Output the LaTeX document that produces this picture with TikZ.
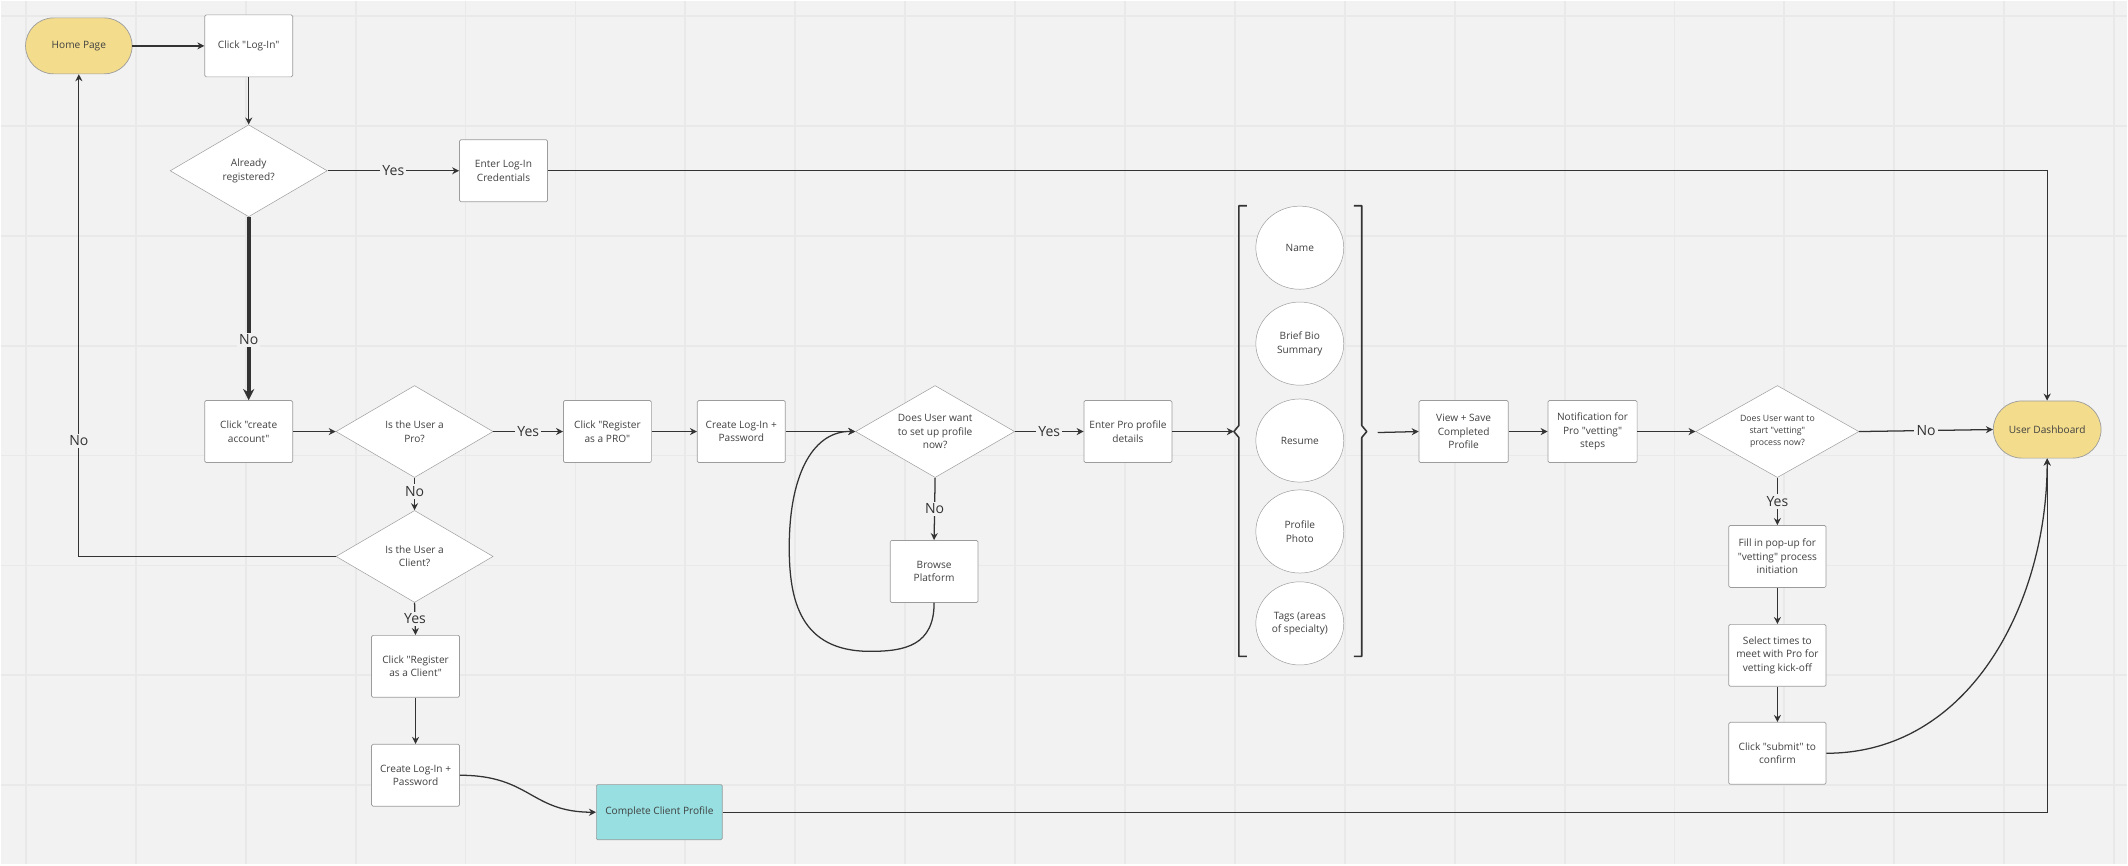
\documentclass[tikz,border=0pt]{standalone}
\usepackage{fontspec}
\setmainfont{Open Sans}[Ligatures=TeXOff]
\usepackage{xcolor}
\definecolor{canvas-bg}{HTML}{F2F2F2}
\definecolor{grid-line}{HTML}{E9E9E9}
\definecolor{ink-dark}{HTML}{333333}
\definecolor{box-edge}{HTML}{9C9C9C}
\definecolor{text-grey}{HTML}{404040}
\definecolor{term-yellow}{HTML}{F3DC8C}
\definecolor{client-teal}{HTML}{97DFE1}
\usetikzlibrary{arrows.meta, shapes.geometric, shapes.misc}

\begin{document}
\begin{tikzpicture}[x=0.025cm, y=-0.025cm,
    every node/.style={font=\fontsize{7.2}{9.6}\selectfont, text=text-grey},
    box/.style={draw=box-edge, line width=0.5pt, fill=white, rounded corners=1pt,
        minimum width=2.2cm, minimum height=1.55cm, align=center, inner sep=2pt},
    decision/.style={diamond, shape aspect=1.7, draw=box-edge, line width=0.35pt,
        fill=white, minimum width=3.93cm, minimum height=2.3cm, inner sep=0pt, align=center},
    terminal/.style={rounded rectangle, draw=box-edge, line width=0.5pt, fill=term-yellow,
        minimum width=2.9cm, minimum height=1.4cm},
    bubble/.style={ellipse, draw=box-edge, line width=0.35pt, fill=white,
        minimum width=2.2cm, minimum height=2.08cm, inner sep=0pt, align=center},
    flow/.style={draw=ink-dark, line width=0.9pt, -{Stealth[length=5pt, width=5pt]}},
    lbl/.style={fill=canvas-bg, inner sep=1.5pt, font=\fontsize{10}{12}\selectfont, text=ink-dark}]

  % canvas and grid
  \fill[canvas-bg] (0,0) rectangle (2128,864);
  \foreach \gx in {25,135,...,2115}
    \draw[grid-line, line width=1.3pt] (\gx,0) -- (\gx,864);
  \foreach \gy in {15,125,...,785}
    \draw[grid-line, line width=1.3pt] (0,\gy) -- (2128,\gy);

  % log-in branch
  \node[terminal] (home) at (78,45) {Home Page};
  \node[box] (login) at (248,45) {Click "Log-In"};
  \node[decision] (reg) at (248,170) {Already\\registered?};
  \node[box] (creds) at (503,170) {Enter Log-In\\Credentials};
  \node[terminal, minimum width=2.93cm, minimum height=1.43cm] (dash) at (2048,429) {User Dashboard};

  % pro sign-up
  \node[box] (create) at (248,431) {Click "create\\account"};
  \node[decision] (pro) at (414,431) {Is the User a\\Pro?};
  \node[box] (regpro) at (607,431) {Click "Register\\as a PRO"};
  \node[box] (procreds) at (741,431) {Create Log-In +\\Password};
  \node[decision, minimum width=3.98cm] (setup) at (935,431) {Does User want\\to set up profile\\now?};
  \node[box] (browse) at (934,571) {Browse\\Platform};
  \node[box] (enter) at (1128,431) {Enter Pro profile\\details};

  % profile fields
  \node[bubble] (name) at (1300,247) {Name};
  \node[bubble] (bio) at (1300,343) {Brief Bio\\Summary};
  \node[bubble] (resume) at (1300,440) {Resume};
  \node[bubble] (photo) at (1300,531) {Profile\\Photo};
  \node[bubble] (tags) at (1300,623) {Tags (areas\\of specialty)};
  \draw[ink-dark, line width=1.1pt, line join=round]
    (1247,205) -- (1239,205) -- (1239,425) -- (1234,431) -- (1239,437) -- (1239,656) -- (1247,656);
  \draw[ink-dark, line width=1.1pt, line join=round]
    (1354,205) -- (1362,205) -- (1362,425) -- (1367,431) -- (1362,437) -- (1362,656) -- (1354,656);
  \coordinate (brL) at (1234,431);
  \coordinate (brR) at (1378,432);

  % vetting
  \node[box, minimum width=2.23cm] (view) at (1464,431) {View + Save\\Completed\\Profile};
  \node[box, minimum width=2.23cm] (notif) at (1593,431) {Notification for\\Pro "vetting"\\steps};
  \node[decision, minimum width=4.08cm, font=\fontsize{6.2}{8.6}\selectfont] (vet) at (1778,431)
    {Does User want to\\start "vetting"\\process now?};
  \node[box, minimum width=2.43cm] (popup) at (1778,556) {Fill in pop-up for\\"vetting" process\\initiation};
  \node[box, minimum width=2.43cm] (times) at (1778,655) {Select times to\\meet with Pro for\\vetting kick-off};
  \node[box, minimum width=2.43cm] (submit) at (1778,753) {Click "submit" to\\confirm};

  % client sign-up
  \node[decision] (client) at (414,556) {Is the User a\\Client?};
  \node[box] (regclient) at (415,666) {Click "Register\\as a Client"};
  \node[box] (clcreds) at (415,775) {Create Log-In +\\Password};
  \node[box, fill=client-teal, minimum width=3.15cm, minimum height=1.38cm] (profile) at (659,812)
    {Complete Client Profile};

  % connectors
  \draw[flow] (home.east) -- (login.west);
  \draw[flow] (login.south) -- (reg.north);
  \draw[flow] (reg.east) -- node[lbl] {Yes} (creds.west);
  \draw[flow] (creds.east) -| (dash.north);
  \draw[flow, line width=2.6pt, -{Stealth[length=8pt, width=8pt]}]
    (reg.south) -- node[lbl, pos=0.67] {No} (create.north);
  \draw[flow] (create.east) -- (pro.west);
  \draw[flow] (pro.east) -- node[lbl] {Yes} (regpro.west);
  \draw[flow] (regpro.east) -- (procreds.west);
  \draw[flow] (procreds.east) -- (setup.west);
  \draw[flow] (setup.east) -- node[lbl] {Yes} (enter.west);
  \draw[flow] (setup.south) -- node[lbl] {No} (browse.north);
  \draw[flow] (browse.south) .. controls (934,645) and (905,651) .. (870,651)
    .. controls (800,651) and (789,600) .. (789,547)
    .. controls (789,470) and (815,430) .. (setup.west);
  \draw[flow] (enter.east) -- (brL);
  \draw[flow] (brR) -- (view.west);
  \draw[flow] (view.east) -- (notif.west);
  \draw[flow] (notif.east) -- (vet.west);
  \draw[flow] (vet.east) -- node[lbl] {No} (dash.west);
  \draw[flow] (vet.south) -- node[lbl] {Yes} (popup.north);
  \draw[flow] (popup.south) -- (times.north);
  \draw[flow] (times.south) -- (submit.north);
  \draw[flow] (submit.east) .. controls (1971,753) and (2048,602) .. (dash.south);
  \draw[flow] (pro.south) -- node[lbl, pos=0.42] {No} (client.north);
  \draw[flow] (client.west) -| node[lbl, pos=0.62] {No} (home.south);
  \draw[flow] (client.south) -- node[lbl] {Yes} (regclient.north);
  \draw[flow] (regclient.south) -- (clcreds.north);
  \draw[flow] (clcreds.east) .. controls (530,775) and (530,812) .. (profile.west);
  \draw[flow] (profile.east) -| (dash.south);
\end{tikzpicture}
\end{document}
